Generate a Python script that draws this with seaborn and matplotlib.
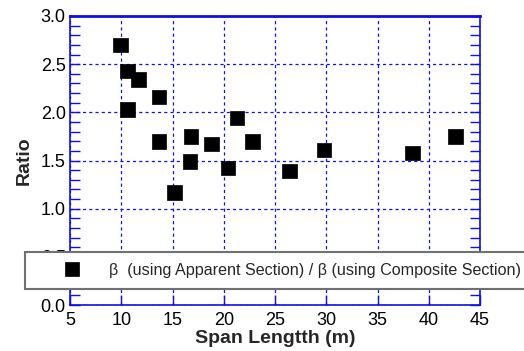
import matplotlib
matplotlib.use("Agg")
import matplotlib.pyplot as plt
import seaborn as sns
import pandas as pd
from matplotlib.ticker import MultipleLocator
from matplotlib.patches import Rectangle

span = [9.9, 10.6, 11.7, 13.7, 10.6, 13.7, 16.8, 18.8, 21.3, 22.8, 16.7, 20.4, 15.2, 26.4, 29.8, 38.4, 42.6]
ratio = [2.70, 2.43, 2.34, 2.16, 2.03, 1.70, 1.75, 1.67, 1.94, 1.70, 1.49, 1.42, 1.17, 1.39, 1.61, 1.58, 1.75]
label = "\u03b2  (using Apparent Section) / \u03b2 (using Composite Section)"
xticks = [5, 10, 15, 20, 25, 30, 35, 40, 45]
yticks = [0.0, 0.5, 1.0, 1.5, 2.0, 2.5, 3.0]

sns.set_style("white")
plt.rcParams['font.family'] = ['Liberation Sans', 'DejaVu Sans']

df = pd.DataFrame({"span": span, "ratio": ratio, "series": label})

W, H = 524, 351
fig = plt.figure(figsize=(W / 100, H / 100), dpi=100)
ax = fig.add_axes([70 / W, 1 - 305 / H, 410 / W, 289 / H])

sns.scatterplot(data=df, x="span", y="ratio", hue="series", palette=["black"],
                marker="s", s=110, edgecolor="black", linewidth=0.5, ax=ax,
                legend=True, zorder=3)

ax.set_xlim(5, 45)
ax.set_ylim(0, 3.0)
ax.set_xticks(xticks)
ax.set_yticks(yticks)
ax.set_xticklabels([str(v) for v in xticks], fontsize=13)
ax.set_yticklabels([f"{v:.1f}" for v in yticks], fontsize=13)
ax.yaxis.set_minor_locator(MultipleLocator(0.1))

blue = "#1010e0"
ax.grid(True, which="major", color=blue, linestyle=(0, (2.5, 2.5)), linewidth=0.9)
for sp in ax.spines.values():
    sp.set_color(blue)
    sp.set_linewidth(1.2)
ax.spines['top'].set_linewidth(2.0)
ax.tick_params(axis="both", which="major", direction="in", length=7, color=blue,
               width=1.0, labelcolor="black")
ax.tick_params(axis="x", which="major", pad=5)
ax.tick_params(axis="y", which="major", pad=3)
ax.tick_params(axis="y", which="both", left=True, right=True, direction="in", color=blue)
ax.tick_params(axis="y", which="minor", length=7, width=1.0)
ax.tick_params(axis="x", which="both", bottom=True, top=False)

ax.set_xlabel("Span Lengtth (m)", fontsize=14, fontweight="bold", labelpad=1)
ax.set_ylabel("Ratio", fontsize=14, fontweight="bold", labelpad=6)

# legend box that runs off the right edge of the figure
y0, y1 = 1 - 289.3 / H, 1 - 251.7 / H
box = Rectangle((25 / W, y0), 1.0, y1 - y0, transform=fig.transFigure,
                facecolor="white", edgecolor="#707070", linewidth=1.5,
                zorder=4, clip_on=False)
fig.patches.append(box)

handles, labels = ax.get_legend_handles_labels()
ax.get_legend().remove()
leg = fig.legend(handles, labels, loc="center left",
                 bbox_to_anchor=(25 / W, y0, 0.9, y1 - y0),
                 borderaxespad=0, fontsize=11.6, frameon=False, borderpad=0.7,
                 handlelength=4.4, handletextpad=0.1, markerscale=1.0)
leg.set_zorder(5)

fig.savefig("out.png", dpi=100)
